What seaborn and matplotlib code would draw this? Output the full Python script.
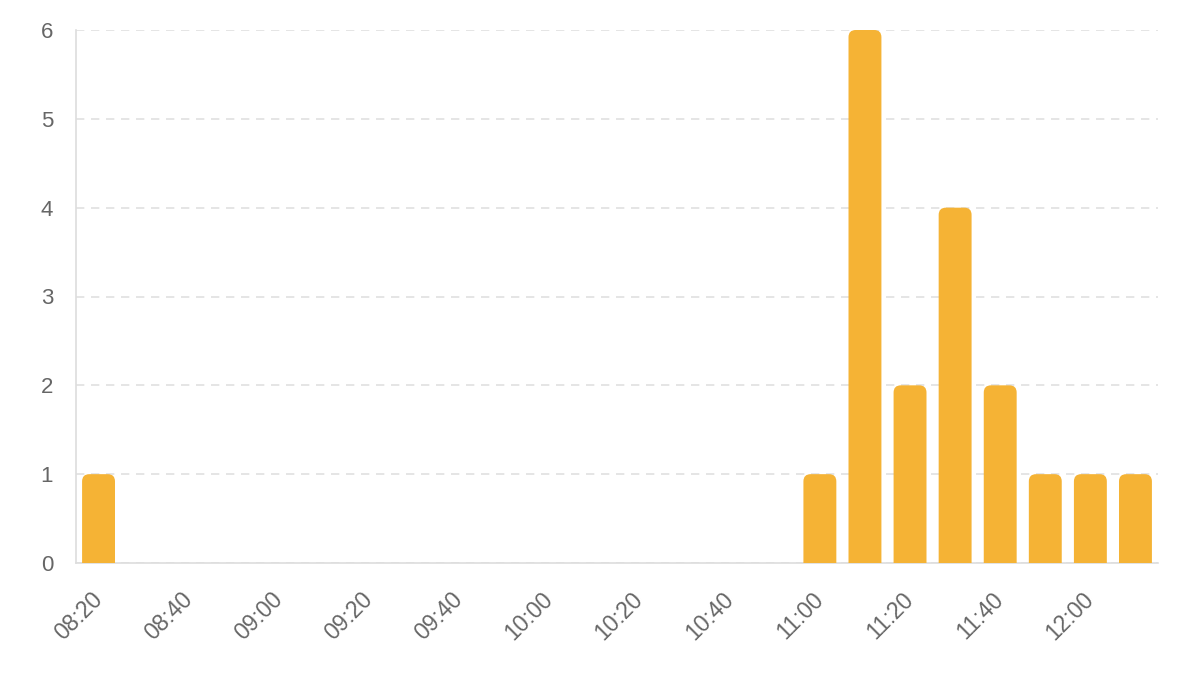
import numpy as np
import pandas as pd
import matplotlib
matplotlib.use("Agg")
import matplotlib.pyplot as plt
import seaborn as sns
from matplotlib.patches import FancyBboxPatch

# 10-minute slots and counts
times = ["08:20", "08:30", "08:40", "08:50", "09:00", "09:10", "09:20", "09:30",
         "09:40", "09:50", "10:00", "10:10", "10:20", "10:30", "10:40", "10:50",
         "11:00", "11:10", "11:20", "11:30", "11:40", "11:50", "12:00", "12:10"]
counts = [1, 0, 0, 0, 0, 0, 0, 0,
          0, 0, 0, 0, 0, 0, 0, 0,
          1, 6, 2, 4, 2, 1, 1, 1]
yticks = [0, 1, 2, 3, 4, 5, 6]

bar_color = "#F5B335"
text_color = "#666666"
line_color = "#DDDDDD"

df = pd.DataFrame({"time": times, "count": counts})

sns.set_style("white")
plt.rcParams['font.family'] = ['Liberation Sans', 'DejaVu Sans']

fig = plt.figure(figsize=(11.77, 6.73), dpi=100)
ax = fig.add_axes([76 / 1177, 1 - 563 / 673, (1158 - 76) / 1177, (563 - 30) / 673])

sns.barplot(data=df, x="time", y="count", color=bar_color, width=0.73,
            saturation=1, ax=ax)

ax.set_xlim(-0.5, len(times) - 0.5)
ax.set_ylim(0, 6)

# swap plain rectangles for bars with rounded tops
bars = list(ax.patches)
for p in bars:
    h = p.get_height()
    if h <= 0:
        p.remove()
        continue
    x0, w = p.get_x(), p.get_width()
    r = 0.16
    fb = FancyBboxPatch((x0, -0.3), w, h + 0.3,
                        boxstyle=f"round,pad=0,rounding_size={r}",
                        mutation_aspect=0.507,
                        facecolor=bar_color, edgecolor="none", zorder=3)
    p.remove()
    ax.add_patch(fb)

ax.set_yticks(yticks)
ax.set_xticks(range(0, len(times), 2))
ax.set_xticklabels(times[::2], rotation=45, ha="right", va="center",
                   rotation_mode="anchor")
ax.set_xlabel("")
ax.set_ylabel("")

ax.yaxis.grid(True, color="#E0E0E0", linestyle=(0, (5, 4)), linewidth=1.2)
ax.set_axisbelow(True)

for s in ["top", "right"]:
    ax.spines[s].set_visible(False)
ax.spines["left"].set_color(line_color)
ax.spines["bottom"].set_color(line_color)
ax.spines["left"].set_linewidth(1.2)
ax.spines["bottom"].set_linewidth(1.2)

ax.tick_params(axis="y", length=11.5, color=line_color, width=1.2, pad=5,
               labelsize=16, labelcolor=text_color)
ax.tick_params(axis="x", length=0, pad=24, labelsize=16.5, labelcolor=text_color)

fig.savefig("out.png", dpi=100, facecolor="white")
